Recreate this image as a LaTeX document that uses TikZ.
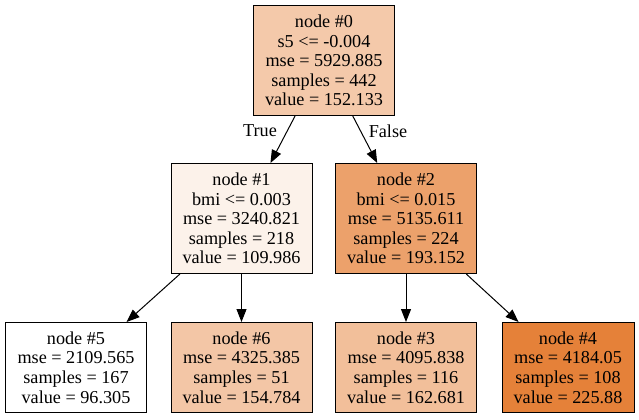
\documentclass[tikz,border=0pt]{standalone}
\usepackage{fontspec}
\setmainfont{Liberation Serif}
\usetikzlibrary{arrows.meta}
\definecolor{c0}{HTML}{F4C9AA}
\definecolor{c1}{HTML}{FCF2EA}
\definecolor{c2}{HTML}{ECA16B}
\definecolor{c3}{HTML}{F2BF9A}
\definecolor{c4}{HTML}{E58139}
\definecolor{c6}{HTML}{F3C6A6}
\tikzset{
  tnode/.style={draw=black, line width=1bp, rectangle, align=center, inner sep=0pt,
    font=\fontsize{18.2bp}{19.6bp}\selectfont},
  inner/.style={tnode, minimum width=141bp, minimum height=110bp},
  leaf/.style={tnode, minimum width=141bp, minimum height=90bp},
  edge/.style={-{Triangle[length=13bp,width=10bp]}, line width=1bp, black},
  elab/.style={font=\fontsize{18.2bp}{19.6bp}\selectfont, inner sep=0pt}
}
\begin{document}
\begin{tikzpicture}[x=1bp,y=-1bp]
\useasboundingbox (0,0) rectangle (639,419);
\node[inner, fill=c0] (n0) at (324,60.5) {node \#0\\s5 <= -0.004\\mse = 5929.885\\samples = 442\\value = 152.133};
\node[inner, fill=c1] (n1) at (241.5,218.5) {node \#1\\bmi <= 0.003\\mse = 3240.821\\samples = 218\\value = 109.986};
\node[inner, fill=c2] (n2) at (406,218.5) {node \#2\\bmi <= 0.015\\mse = 5135.611\\samples = 224\\value = 193.152};
\node[leaf, fill=white] (n5) at (76,367.5) {node \#5\\mse = 2109.565\\samples = 167\\value = 96.305};
\node[leaf, fill=c6] (n6) at (241.5,367.5) {node \#6\\mse = 4325.385\\samples = 51\\value = 154.784};
\node[leaf, fill=c3] (n3) at (406,367.5) {node \#3\\mse = 4095.838\\samples = 116\\value = 162.681};
\node[leaf, fill=c4, minimum width=132bp] (n4) at (568,367.5) {node \#4\\mse = 4184.05\\samples = 108\\value = 225.88};
\draw[edge] (n0) -- (n1);
\draw[edge] (n0) -- (n2);
\draw[edge] (n1) -- (n5);
\draw[edge] (n1) -- (n6);
\draw[edge] (n2) -- (n3);
\draw[edge] (n2) -- (n4);
\node[elab] (lt) at (260,131) {True};
\node[elab] (lf) at (388,131) {False};
\end{tikzpicture}
\end{document}
